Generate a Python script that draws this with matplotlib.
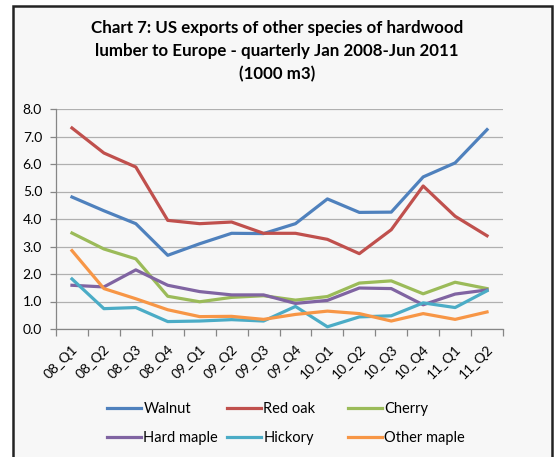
import matplotlib
matplotlib.use("Agg")
from matplotlib import pyplot as plt
from matplotlib.patches import Rectangle
import numpy as np

plt.rcParams['font.family'] = ['Lato', 'DejaVu Sans']

quarters = ['08_Q1', '08_Q2', '08_Q3', '08_Q4', '09_Q1', '09_Q2', '09_Q3',
            '09_Q4', '10_Q1', '10_Q2', '10_Q3', '10_Q4', '11_Q1', '11_Q2']

walnut = [4.80, 4.30, 3.83, 2.68, 3.10, 3.48, 3.47, 3.83, 4.73, 4.24, 4.25, 5.53, 6.04, 7.25]
red_oak = [7.31, 6.40, 5.89, 3.95, 3.83, 3.89, 3.48, 3.48, 3.26, 2.74, 3.61, 5.20, 4.10, 3.39]
cherry = [3.49, 2.91, 2.55, 1.19, 0.99, 1.15, 1.21, 1.05, 1.18, 1.67, 1.75, 1.28, 1.70, 1.47]
hard_maple = [1.59, 1.53, 2.15, 1.59, 1.36, 1.24, 1.24, 0.93, 1.04, 1.49, 1.47, 0.88, 1.27, 1.42]
hickory = [1.82, 0.74, 0.78, 0.27, 0.29, 0.34, 0.29, 0.82, 0.08, 0.44, 0.48, 0.95, 0.78, 1.39]
other_maple = [2.85, 1.47, 1.10, 0.70, 0.45, 0.46, 0.35, 0.53, 0.65, 0.56, 0.29, 0.56, 0.35, 0.62]

series = [('Walnut', walnut, '#4F81BD'),
          ('Red oak', red_oak, '#C0504D'),
          ('Cherry', cherry, '#9BBB59'),
          ('Hard maple', hard_maple, '#8064A2'),
          ('Hickory', hickory, '#4BACC6'),
          ('Other maple', other_maple, '#F79646')]

W, H = 557, 457
fig = plt.figure(figsize=(W / 100, H / 100), dpi=100)
fig.patch.set_facecolor('white')

# chart frame (runs off the bottom of the image)
frame = Rectangle((12.5 / W, -0.05), (552 - 12.5) / W, 1.05 - 5.5 / H,
                  transform=fig.transFigure, facecolor='#f7f7f7',
                  edgecolor='#222222', lw=1.8, zorder=-5)
fig.patches.append(frame)

title_lines = ['Chart 7: US exports of other species of hardwood',
               'lumber to Europe - quarterly Jan 2008-Jun 2011',
               '(1000 m3)']
for i, t in enumerate(title_lines):
    fig.text(277 / W, 1 - (28 + 23 * i) / H, t, ha='center', va='center',
             fontsize=12.2, fontweight='bold')

ax = fig.add_axes([56 / W, 1 - 329 / H, (503 - 56) / W, (329 - 109) / H])
ax.set_zorder(1)
ax.patch.set_alpha(0)

x = np.arange(len(quarters))
lines = []
for name, vals, col in series:
    l, = ax.plot(x, vals, color=col, lw=2.3, label=name, solid_joinstyle='round')
    lines.append(l)

ax.set_xlim(-0.5, len(quarters) - 0.5)
ax.set_ylim(0, 8)
yt = np.arange(0, 8.1, 1.0)
ax.set_yticks(yt)
ax.set_yticklabels([f'{v:.1f}' for v in yt], fontsize=10)
ax.yaxis.grid(True, color='#b0b0b0', lw=0.9)
ax.set_axisbelow(True)

ax.set_xticks(x)
ax.set_xticklabels(quarters, rotation=45, ha='right', rotation_mode='anchor', fontsize=10)
ax.set_xticks(np.arange(-0.5, len(quarters), 1.0), minor=True)
ax.tick_params(axis='x', which='major', length=0, pad=10)
ax.tick_params(axis='x', which='minor', length=5, color='#868686', width=0.9)
ax.tick_params(axis='y', length=4, color='#868686', width=0.9, pad=6)

for s in ['top', 'right']:
    ax.spines[s].set_visible(False)
for s in ['left', 'bottom']:
    ax.spines[s].set_color('#868686')
    ax.spines[s].set_linewidth(0.9)

# legend: three fixed-width columns, filled row by row
col_x = [107, 227, 348]
for c in range(3):
    fig.legend(handles=[lines[c], lines[c + 3]], loc='upper left',
               bbox_to_anchor=(col_x[c] / W, 1 - 402 / H), borderaxespad=0,
               borderpad=0, frameon=False, fontsize=10.5, handlelength=2.3,
               handletextpad=0.2, labelspacing=1.03)

fig.savefig('out.png', dpi=100)
